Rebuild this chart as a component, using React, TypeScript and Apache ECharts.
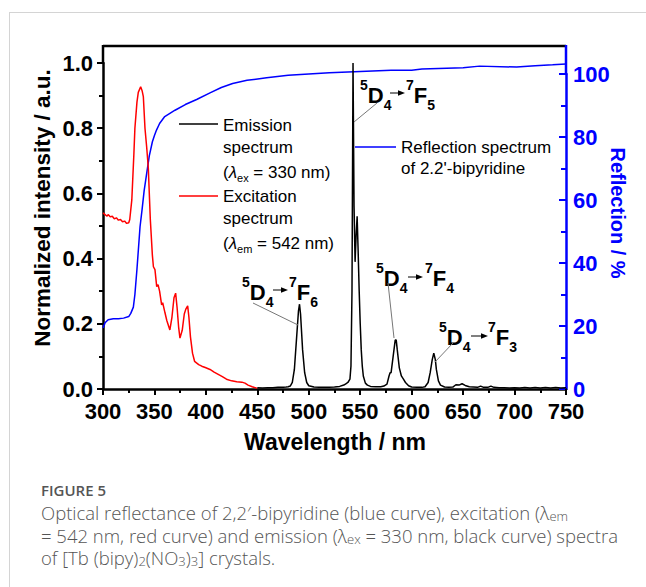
import React, { useEffect, useRef } from 'react';
import * as echarts from 'echarts';

// [wavelength nm, normalized intensity]
const emission: [number, number][] = [
  [450, 0.004], [455, 0.003], [460, 0.004], [465, 0.004], [470, 0.005], [475, 0.005], [478, 0.006],
  [480, 0.007], [482, 0.009], [484, 0.02], [486, 0.06], [488, 0.15], [490, 0.24], [491, 0.26],
  [492, 0.23], [494, 0.12], [496, 0.05], [498, 0.02], [500, 0.01], [505, 0.006], [510, 0.005],
  [515, 0.005], [520, 0.005], [525, 0.006], [530, 0.008], [534, 0.012], [536, 0.016], [538, 0.02],
  [540, 0.03], [541, 0.07], [542, 0.3], [543, 1.0], [544, 0.56], [545, 0.39], [546, 0.47],
  [547, 0.53], [548, 0.42], [549, 0.3], [550, 0.2], [551, 0.12], [552, 0.07], [553, 0.04],
  [555, 0.018], [557, 0.012], [560, 0.008], [565, 0.007], [570, 0.007], [573, 0.009], [576, 0.015],
  [578, 0.04], [579, 0.05], [580, 0.05], [582, 0.1], [584, 0.15], [585, 0.15], [586, 0.12],
  [588, 0.065], [590, 0.04], [592, 0.03], [594, 0.02], [597, 0.01], [600, 0.006], [605, 0.005],
  [610, 0.005], [613, 0.007], [616, 0.02], [618, 0.05], [620, 0.09], [621.5, 0.11], [623, 0.09],
  [624, 0.06], [626, 0.025], [628, 0.012], [632, 0.006], [636, 0.005], [640, 0.006], [643, 0.013],
  [646, 0.012], [649, 0.016], [652, 0.011], [656, 0.007], [660, 0.006], [664, 0.005], [667, 0.009],
  [670, 0.005], [674, 0.005], [677, 0.009], [680, 0.005], [685, 0.004], [690, 0.004], [695, 0.003],
  [700, 0.004], [705, 0.003], [710, 0.005], [715, 0.003], [720, 0.005], [725, 0.003], [730, 0.005],
  [735, 0.003], [740, 0.005], [745, 0.003], [750, 0.004],
];

// [wavelength nm, normalized intensity]
const excitation: [number, number][] = [
  [300, 0.54], [302, 0.535], [304, 0.53], [305, 0.535], [307, 0.528], [309, 0.53], [311, 0.522],
  [313, 0.525], [315, 0.518], [317, 0.52], [319, 0.513], [321, 0.515], [323, 0.508], [325, 0.51],
  [326, 0.52], [328, 0.58], [330, 0.72], [331, 0.8], [333, 0.88], [334.3, 0.91], [336.6, 0.927],
  [338, 0.915], [339.2, 0.897], [340.8, 0.8], [342.5, 0.74], [344, 0.68], [346, 0.52], [348, 0.41],
  [349, 0.375], [350.5, 0.366], [352.2, 0.314], [353.5, 0.32], [355, 0.3], [357, 0.258], [358, 0.265],
  [360.3, 0.233], [362, 0.21], [365, 0.181], [367, 0.22], [369, 0.28], [370.6, 0.294], [372, 0.25],
  [373.5, 0.19], [374.8, 0.156], [377, 0.18], [379, 0.23], [380.5, 0.245], [382.3, 0.255],
  [383.5, 0.22], [385, 0.16], [387, 0.11], [389, 0.085], [393, 0.075], [396, 0.07], [400, 0.065],
  [404, 0.06], [408, 0.052], [412, 0.045], [416, 0.038], [420, 0.03], [425, 0.025], [430, 0.022],
  [435, 0.021], [438, 0.018], [441, 0.012], [445, 0.007], [450, 0.002],
];

// [wavelength nm, reflection %]
const reflection: [number, number][] = [
  [300, 19.4], [302, 21], [305, 22], [310, 22.3], [315, 22.3], [320, 22.5], [325, 23], [327, 24],
  [329.5, 26], [331, 30], [333, 38], [336, 51.5], [338, 57], [340, 63], [342.5, 68.5], [345, 74],
  [348, 78.5], [350, 80.5], [352, 82.2], [355, 84.3], [360, 86.5], [365, 87.5], [370, 88.5],
  [380, 90.3], [391, 91.9], [404, 94], [415, 95.7], [426, 97], [440, 98], [459, 98.8], [480, 99.6],
  [500, 100], [520, 100.4], [550, 100.8], [580, 101.2], [600, 101.2], [610, 101.6], [650, 102],
  [666, 102.5], [702, 102.2], [720, 102.6], [737, 102.9], [750, 103.2],
];

const FONT = '"Liberation Sans", Arial, Helvetica, sans-serif';
const CAP_FONT = '"Open Sans", "Noto Sans", sans-serif';

function txt(x: number, y: number, text: string, opts: any = {}, rich?: any, rotation = 0) {
  return {
    type: 'text',
    x,
    y,
    rotation,
    z: 100,
    style: {
      text,
      fontFamily: opts.fontFamily || FONT,
      fontSize: opts.fontSize || 17,
      fontWeight: opts.fontWeight || 'normal',
      fill: opts.fill || '#000',
      align: opts.align || 'left',
      textAlign: opts.align || 'left',
      verticalAlign: 'middle',
      textVerticalAlign: 'middle',
      lineHeight: opts.lineHeight,
      rich,
    },
  };
}

function seg(x1: number, y1: number, x2: number, y2: number, stroke: string, lineWidth: number) {
  return { type: 'line', z: 100, shape: { x1, y1, x2, y2 }, style: { stroke, lineWidth } };
}

function arrow(x1: number, x2: number, y: number) {
  return [
    seg(x1, y, x2 - 4, y, '#000', 1),
    { type: 'polygon', z: 100, shape: { points: [[x2 - 7, y - 2.8], [x2, y], [x2 - 7, y + 2.8]] }, style: { fill: '#000' } },
  ];
}

const annRich = {
  sup: { fontSize: 14, fontWeight: 'bold', fontFamily: FONT, verticalAlign: 'top', lineHeight: 14 },
  sub: { fontSize: 14, fontWeight: 'bold', fontFamily: FONT, verticalAlign: 'bottom', lineHeight: 14 },
};

function annotation(left: number, cy: number, ax1: number, ax2: number, ay: number, right: number, j: string) {
  const o = { fontSize: 22, fontWeight: 'bold', lineHeight: 34 };
  return [
    txt(left, cy, '{sup|5}D{sub|4}', o, annRich),
    ...arrow(ax1, ax2, ay),
    txt(right, cy, '{sup|7}F{sub|' + j + '}', o, annRich),
  ];
}

const legRich = {
  it: { fontSize: 17, fontFamily: FONT, fontStyle: 'italic', lineHeight: 22 },
  sub: { fontSize: 11, fontFamily: FONT, verticalAlign: 'bottom', lineHeight: 12 },
};

const capRich = {
  sub: { fontSize: 13, fontFamily: CAP_FONT, fontWeight: 300, fill: '#555', verticalAlign: 'bottom', lineHeight: 12 },
};

export default function App() {
  const ref = useRef<HTMLDivElement>(null);
  useEffect(() => {
    if (!ref.current) return;
    const chart = echarts.init(ref.current, undefined, { renderer: 'svg' });
    const capOpts = { fontFamily: CAP_FONT, fontSize: 18.5, fill: '#555', fontWeight: 300, lineHeight: 20 };
    const graphic: any[] = [
      // page frame
      seg(9, 12.5, 646, 12.5, '#d4d4d4', 1),
      seg(9.5, 12, 9.5, 587, '#d4d4d4', 1),
      // plot frame extensions
      seg(103, 46, 566, 46, '#000', 2.5),
      seg(103, 45, 103, 64, '#000', 2.5),
      seg(566, 45, 566, 75, '#0000ff', 2.5),
      // axis titles
      txt(42, 208, 'Normalized intensity / a.u.', { fontSize: 22.5, fontWeight: 'bold', align: 'center' }, undefined, Math.PI / 2),
      txt(618, 213, 'Reflection / %', { fontSize: 20, fontWeight: 'bold', align: 'center', fill: '#0000ff' }, undefined, -Math.PI / 2),
      txt(335, 442, 'Wavelength / nm', { fontSize: 23, fontWeight: 'bold', align: 'center' }),
      // legend
      seg(179, 124, 218, 124, '#000', 1.5),
      txt(223, 125, 'Emission', { fontSize: 17 }),
      txt(223, 147, 'spectrum', { fontSize: 17 }),
      txt(223, 172, '({it|λ}{sub|ex} = 330 nm)', { fontSize: 17, lineHeight: 22 }, legRich),
      seg(179, 196, 218, 196, '#ff0000', 1.5),
      txt(223, 196, 'Excitation', { fontSize: 17 }),
      txt(223, 218, 'spectrum', { fontSize: 17 }),
      txt(223, 243, '({it|λ}{sub|em} = 542 nm)', { fontSize: 17, lineHeight: 22 }, legRich),
      seg(355, 147, 396, 147, '#0000ff', 1.5),
      txt(401, 147, 'Reflection spectrum', { fontSize: 17 }),
      txt(401, 168, "of 2.2'-bipyridine", { fontSize: 17 }),
      // annotations
      ...annotation(360, 95, 390, 405, 93, 406, '5'),
      seg(377, 103, 354, 122, '#777', 1),
      ...annotation(242, 292, 273, 288, 290, 289, '6'),
      seg(253, 303, 298, 325, '#777', 1),
      ...annotation(376, 278, 408, 423, 277, 425, '4'),
      seg(388, 283, 394, 338, '#777', 1),
      ...annotation(439, 337, 471, 488, 336, 488, '3'),
      seg(453, 343, 435, 362, '#777', 1),
      // caption
      txt(41, 490, 'FIGURE 5', { fontFamily: CAP_FONT, fontSize: 15, fill: '#555', fontWeight: 600 }),
      txt(41, 512, 'Optical reflectance of 2,2′-bipyridine (blue curve), excitation (λ{sub|em}', capOpts, capRich),
      txt(41, 535, '= 542 nm, red curve) and emission (λ{sub|ex} = 330 nm, black curve) spectra', capOpts, capRich),
      txt(41, 557, 'of [Tb (bipy){sub|2}(NO{sub|3}){sub|3}] crystals.', capOpts, capRich),
    ];

    const labelStyle = { fontFamily: FONT, fontSize: 22, fontWeight: 'bold', color: '#000' };
    chart.setOption({
      animation: false,
      backgroundColor: '#fff',
      grid: [
        { left: 103, top: 63, width: 463, height: 326 },
        { left: 103, top: 74, width: 463, height: 315 },
      ],
      xAxis: [
        {
          type: 'value', gridIndex: 0, min: 300, max: 750, interval: 50, position: 'bottom',
          axisLine: { show: true, onZero: false, lineStyle: { color: '#000', width: 2.5 } },
          axisTick: { show: true, inside: false, length: 6, lineStyle: { width: 2, color: '#000' } },
          minorTick: { show: true, splitNumber: 2, length: 4, lineStyle: { width: 2, color: '#000' } },
          axisLabel: { ...labelStyle, margin: 11 },
          splitLine: { show: false },
        },
        {
          type: 'value', gridIndex: 1, min: 300, max: 750, show: false,
          splitLine: { show: false },
        },
      ],
      yAxis: [
        {
          type: 'value', gridIndex: 0, min: 0, max: 1, interval: 0.2, position: 'left',
          axisLine: { show: true, onZero: false, lineStyle: { color: '#000', width: 2.5 } },
          axisTick: { show: true, inside: false, length: 6, lineStyle: { width: 2, color: '#000' } },
          minorTick: { show: true, splitNumber: 2, length: 4, lineStyle: { width: 2, color: '#000' } },
          axisLabel: { ...labelStyle, margin: 10, formatter: (v: number) => v.toFixed(1) },
          splitLine: { show: false },
        },
        {
          type: 'value', gridIndex: 1, min: 0, max: 100, interval: 20, position: 'right',
          axisLine: { show: true, onZero: false, lineStyle: { color: '#0000ff', width: 2.5 } },
          axisTick: { show: true, inside: true, length: 7, lineStyle: { width: 2, color: '#0000ff' } },
          minorTick: { show: true, splitNumber: 2, length: 5, lineStyle: { width: 2, color: '#0000ff' } },
          axisLabel: { ...labelStyle, color: '#0000ff', margin: 7 },
          splitLine: { show: false },
        },
      ],
      series: [
        {
          name: 'Reflection', type: 'line', xAxisIndex: 1, yAxisIndex: 1, data: reflection,
          showSymbol: false, symbol: 'none', clip: false, z: 3,
          lineStyle: { color: '#0000ff', width: 1.5 },
        },
        {
          name: 'Excitation', type: 'line', xAxisIndex: 0, yAxisIndex: 0, data: excitation,
          showSymbol: false, symbol: 'none', z: 4,
          lineStyle: { color: '#ff0000', width: 1.5 },
        },
        {
          name: 'Emission', type: 'line', xAxisIndex: 0, yAxisIndex: 0, data: emission,
          showSymbol: false, symbol: 'none', z: 5,
          lineStyle: { color: '#000', width: 1.5 },
        },
      ],
      graphic,
    });
    return () => chart.dispose();
  }, []);
  return (
    <div
      ref={ref}
      style={{ position: 'fixed', left: 0, top: 0, width: 646, height: 587, background: '#fff' }}
    />
  );
}
